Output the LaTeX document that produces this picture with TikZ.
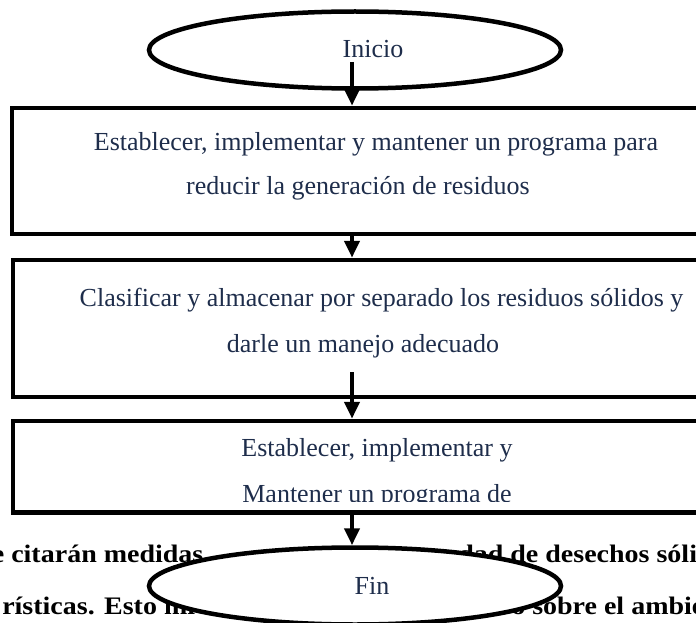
\documentclass[tikz,border=0pt]{standalone}
\usepackage{fontspec}
\setmainfont{Liberation Serif}
\usetikzlibrary{arrows.meta,shapes.geometric}
\definecolor{tinta}{HTML}{1E2D4B}
\newcommand{\aplastado}[1]{\scalebox{1}[0.9]{#1}}

\begin{document}
\begin{tikzpicture}[x=1pt,y=-1pt,>={Triangle[length=17pt,width=15pt]},line width=4.5pt,
  every node/.style={font=\fontsize{26}{30}\selectfont,inner sep=0pt},
  caja/.style={draw,minimum width=708pt},
  term/.style={draw,ellipse,fill=white,minimum width=412pt,minimum height=77pt},
  linea/.style={text=tinta,anchor=base},
  fondo/.style={font=\fontsize{28}{32}\selectfont\bfseries,anchor=base west}]
  \useasboundingbox (0,0) rectangle (696,623);
  % texto del documento, tapado por el terminal final
  \node[fondo] (f1) at (-10.4,562) {\aplastado{e citarán medidas}};
  \node[fondo] (f2) at (456,562) {\aplastado{dad de desechos sólidos}};
  \node[fondo] (f3) at (0,614) {\aplastado{rísticas. Esto mi}};
  \node[fondo] (f4) at (495,614) {\aplastado{vo sobre el ambiente}};
  % terminales y pasos
  \node[term] (ini) at (355,50) {};
  \node[linea] (tini) at (373,58) {Inicio};
  \node[caja,minimum height=126pt] (p1) at (366,171) {};
  \node[linea] (t1a) at (376,150.7) {Establecer, implementar y mantener un programa para};
  \node[linea] (t1b) at (358,194) {reducir la generación de residuos};
  \node[caja,minimum height=137pt] (p2) at (367,328.5) {};
  \node[linea] (t2a) at (381.5,306) {Clasificar y almacenar por separado los residuos sólidos y};
  \node[linea] (t2b) at (363,352) {darle un manejo adecuado};
  \node[caja,minimum height=91.5pt] (p3) at (367,466.75) {};
  \begin{scope}
    \clip (14,421) rectangle (720,501);
    \node[linea] (t3a) at (377,456) {Establecer, implementar y};
    \node[linea] (t3b) at (377,502) {Mantener un programa de};
  \end{scope}
  \node[term] (fin) at (355,586) {};
  \node[linea] (tfin) at (372,594) {Fin};
  % flechas
  \coordinate (a1) at (352,62);
  \coordinate (a3) at (352,372);
  \draw[->] (a1) -- (a1 |- p1.north);
  \draw[->] (p1.south -| a1) -- (a1 |- p2.north);
  \draw[->] (a3) -- (a3 |- p3.north);
  \draw[->] (p3.south -| a1) -- (a1 |- fin.north);
\end{tikzpicture}
\end{document}
